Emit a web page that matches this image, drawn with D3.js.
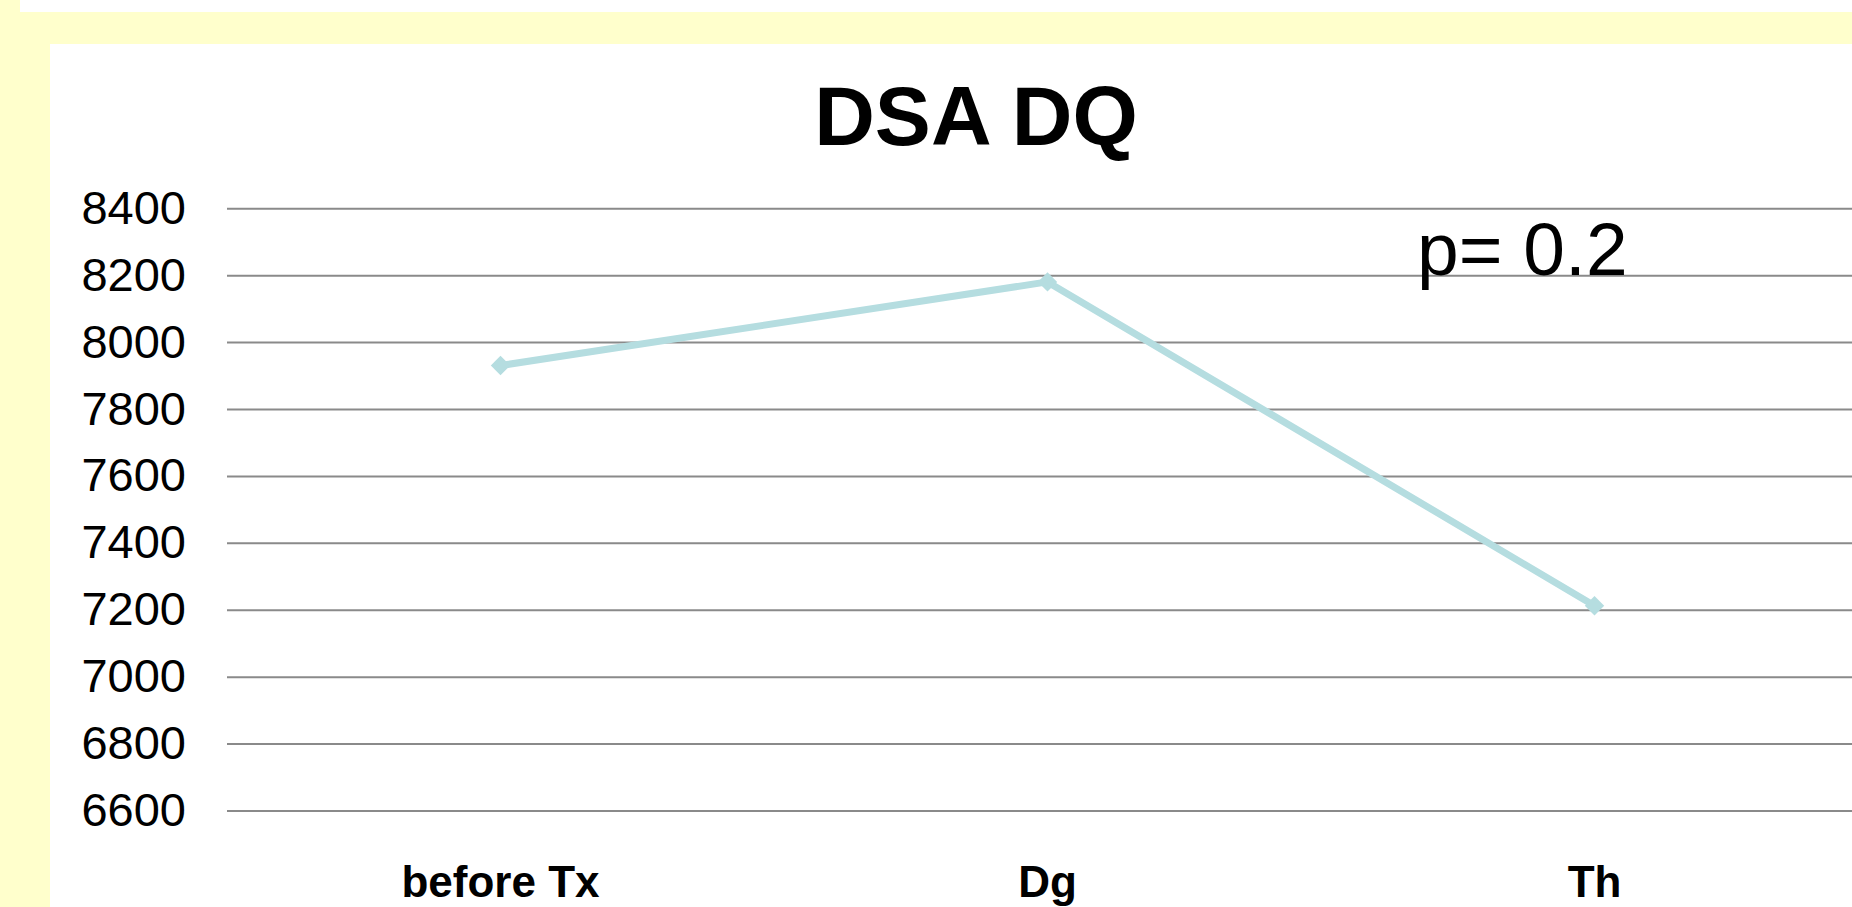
<!DOCTYPE html>
<html>
<head>
<meta charset="utf-8">
<script src="https://cdn.jsdelivr.net/npm/d3@7"></script>
<style>
  html, body { margin: 0; padding: 0; background: #ffffcc; overflow: hidden; }
  svg { display: block; font-family: "Liberation Sans", Arial, sans-serif; }
</style>
</head>
<body>
<svg id="chart" width="1852" height="907"></svg>
<script>
// Chart data
const categories = ["before Tx", "Dg", "Th"];
const dsaValues = [7930, 8180, 7212];
const yTicks = [6600, 6800, 7000, 7200, 7400, 7600, 7800, 8000, 8200, 8400];
const chartTitle = "DSA DQ";
const pLabel = "p= 0.2";

const W = 1852, H = 907;
const svg = d3.select("#chart");

// Page frame: pale yellow slide background with a white strip on top
svg.append("rect").attr("x", 0).attr("y", 0).attr("width", W).attr("height", H).attr("fill", "#ffffcc");
svg.append("rect").attr("x", 20).attr("y", 0).attr("width", W - 20).attr("height", 12).attr("fill", "#ffffff");
// White chart area
svg.append("rect").attr("x", 50).attr("y", 44).attr("width", W - 50).attr("height", H - 44).attr("fill", "#ffffff");

// Plot area
const plotLeft = 227, band = 547;
const x = d3.scaleBand().domain(categories).range([plotLeft, plotLeft + band * categories.length]).padding(0);
const y = d3.scaleLinear().domain([6600, 8400]).range([810.5, 208.3]);
const cx = d => x(d) + x.bandwidth() / 2;

// Horizontal gridlines with value labels
const yAxis = d3.axisLeft(y).tickValues(yTicks).tickSize(-(W - plotLeft)).tickPadding(41).tickFormat(d3.format("d"));
const gY = svg.append("g").attr("transform", `translate(${plotLeft},0)`).call(yAxis);
gY.select(".domain").remove();
gY.selectAll(".tick line").attr("stroke", "#8a8a8a").attr("stroke-width", 2);
gY.selectAll(".tick text")
  .attr("fill", "#000")
  .attr("font-size", 47)
  .attr("font-family", "'Liberation Sans', Arial, sans-serif");

// Category labels
const xAxis = d3.axisBottom(x).tickSize(0).tickPadding(0);
const gX = svg.append("g").attr("transform", "translate(0,897)").call(xAxis);
gX.select(".domain").remove();
gX.selectAll(".tick text")
  .attr("fill", "#000")
  .attr("font-size", 44)
  .attr("font-weight", "bold")
  .attr("dy", 0)
  .attr("font-family", "'Liberation Sans', Arial, sans-serif");

// Series line
const line = d3.line().x((d, i) => cx(categories[i])).y(d => y(d));
svg.append("path")
  .datum(dsaValues)
  .attr("d", line)
  .attr("fill", "none")
  .attr("stroke", "#b5dde0")
  .attr("stroke-width", 7)
  .attr("stroke-linejoin", "round");

// Diamond markers
svg.selectAll(".marker")
  .data(dsaValues)
  .join("path")
  .attr("class", "marker")
  .attr("d", d3.symbol().type(d3.symbolDiamond2).size(240))
  .attr("transform", (d, i) => `translate(${cx(categories[i])},${y(d)})`)
  .attr("fill", "#b5dde0");

// Title
svg.append("text")
  .attr("x", 976).attr("y", 145)
  .attr("text-anchor", "middle")
  .attr("font-size", 84)
  .attr("font-weight", "bold")
  .attr("fill", "#000")
  .text(chartTitle);

// Significance note
svg.append("text")
  .attr("x", 1417).attr("y", 275)
  .attr("font-size", 75)
  .attr("fill", "#000")
  .text(pLabel);
</script>
</body>
</html>
